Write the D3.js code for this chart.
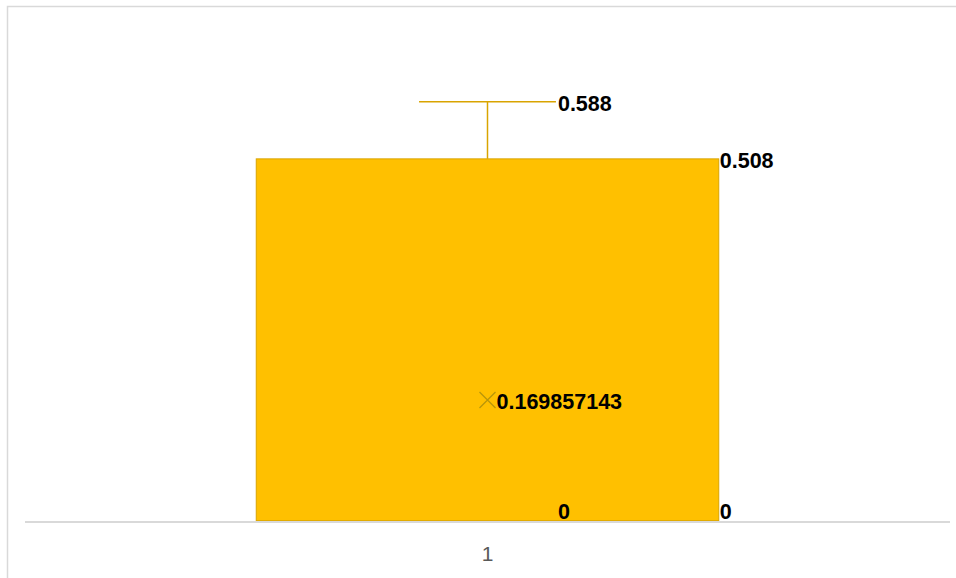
<!DOCTYPE html>
<html>
<head>
<meta charset="utf-8">
<script src="https://cdn.jsdelivr.net/npm/d3@7"></script>
<style>
  html, body { margin: 0; padding: 0; background: #ffffff; }
  svg { display: block; }
</style>
</head>
<body>
<svg id="chart" width="956" height="578"></svg>
<script>
// Box-and-whisker summary for a single series
const categories = ["1"];
const minValues = [0];
const q1Values = [0];
const medianValues = [0];
const q3Values = [0.508];
const maxValues = [0.588];
const meanValues = [0.169857143];
const meanLabels = ["0.169857143"];

const svg = d3.select("#chart");
const W = 956, H = 578;

// Chart-area frame (top and left edges)
svg.append("path")
  .attr("d", `M7.5,${H} L7.5,6.5 L${W},6.5`)
  .attr("fill", "none")
  .attr("stroke", "#d9d9d9")
  .attr("stroke-width", 1.5);

const x = d3.scaleBand().domain(categories).range([25, 950]).padding(0);
const y = d3.scaleLinear().domain([0, 0.7]).range([521, 22]);

const bw = x.bandwidth();
const boxLeft = c => x(c) + bw * 0.25;
const boxRight = c => x(c) + bw * 0.75;
const cx = c => x(c) + bw / 2;
const capHalf = bw * 0.074;

const data = categories.map((c, i) => ({
  c, min: minValues[i], q1: q1Values[i], med: medianValues[i],
  q3: q3Values[i], max: maxValues[i], mean: meanValues[i], meanLabel: meanLabels[i]
}));

const gold = "#FFC000";
const edge = "#D9A400";

const g = svg.append("g");

// Box
g.selectAll("rect.box").data(data).join("rect")
  .attr("class", "box")
  .attr("x", d => boxLeft(d.c))
  .attr("width", d => boxRight(d.c) - boxLeft(d.c))
  .attr("y", d => y(d.q3))
  .attr("height", d => y(d.q1) - y(d.q3))
  .attr("fill", gold)
  .attr("stroke", edge)
  .attr("stroke-width", 1);

// Upper whisker and cap
g.selectAll("line.wu").data(data).join("line")
  .attr("x1", d => cx(d.c)).attr("x2", d => cx(d.c))
  .attr("y1", d => y(d.q3)).attr("y2", d => y(d.max))
  .attr("stroke", edge).attr("stroke-width", 1.5);
g.selectAll("line.capu").data(data).join("line")
  .attr("x1", d => cx(d.c) - capHalf).attr("x2", d => cx(d.c) + capHalf)
  .attr("y1", d => y(d.max)).attr("y2", d => y(d.max))
  .attr("stroke", edge).attr("stroke-width", 1.5);

// Median line
g.selectAll("line.med").data(data).join("line")
  .attr("x1", d => boxLeft(d.c)).attr("x2", d => boxRight(d.c))
  .attr("y1", d => y(d.med)).attr("y2", d => y(d.med))
  .attr("stroke", edge).attr("stroke-width", 1);

// Category axis line
svg.append("line")
  .attr("x1", 25).attr("x2", 950)
  .attr("y1", y(0) + 1).attr("y2", y(0) + 1)
  .attr("stroke", "#d9d9d9").attr("stroke-width", 2);

// Category label
const xAxis = d3.axisBottom(x).tickSize(0).tickPadding(25);
const ax = svg.append("g").attr("transform", `translate(0,${y(0)})`).call(xAxis);
ax.select(".domain").remove();
ax.selectAll("text")
  .attr("fill", "#595959")
  .style("font-family", "'Liberation Sans', Arial, sans-serif")
  .style("font-size", "21px");

// Mean marker (x)
const ms = 8;
g.selectAll("path.mean").data(data).join("path")
  .attr("d", d => {
    const px = cx(d.c), py = y(d.mean);
    return `M${px - ms},${py - ms} L${px + ms},${py + ms} M${px - ms},${py + ms} L${px + ms},${py - ms}`;
  })
  .attr("stroke", "#B8960A").attr("stroke-width", 1.3).attr("fill", "none");

// Value labels
const labelFont = "'Liberation Sans', Arial, sans-serif";
const labels = [];
data.forEach(d => {
  labels.push({ x: cx(d.c) + capHalf + 2, y: y(d.max), t: d3.format(".3f")(d.max) });
  labels.push({ x: boxRight(d.c) + 1, y: y(d.q3), t: d3.format(".3f")(d.q3) });
  labels.push({ x: cx(d.c) + 9, y: y(d.mean), t: d.meanLabel });
  labels.push({ x: cx(d.c) + capHalf + 2, y: y(d.min) - 11, t: String(d.min) });
  labels.push({ x: boxRight(d.c) + 1, y: y(d.q1) - 11, t: String(d.q1) });
});
svg.selectAll("text.lbl").data(labels).join("text")
  .attr("class", "lbl")
  .attr("x", d => d.x).attr("y", d => d.y)
  .attr("dy", "0.42em")
  .attr("fill", "#000")
  .style("font-family", labelFont)
  .style("font-weight", "bold")
  .style("font-size", "21.5px")
  .text(d => d.t);
</script>
</body>
</html>
